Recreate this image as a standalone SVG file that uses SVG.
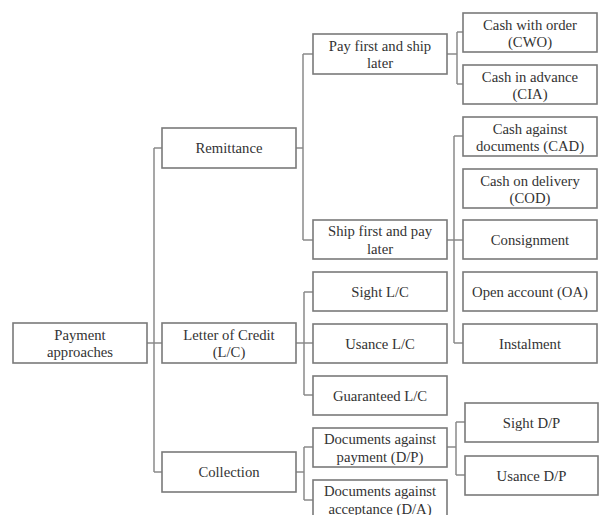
<svg xmlns="http://www.w3.org/2000/svg" width="606" height="515" viewBox="0 0 606 515">
<style>
.b{fill:#fff;stroke:#7a7a7a;stroke-width:1.6}
.t{font-family:"Liberation Serif","Times New Roman",serif;font-size:14.7px;fill:#333;text-anchor:middle;dominant-baseline:central}
.c{fill:none;stroke:#8a8a8a;stroke-width:1.5}
</style>
<rect width="606" height="515" fill="#fff"/>
<g id="connectors">
<path class="c" d="M147 343H162M154 148V472M154 148H162M154 472H162"/>
<path class="c" d="M296 148H303M303 54V240M303 54H313M303 240H313"/>
<path class="c" d="M296 343H313M304 292V395M304 292H313M304 395H313"/>
<path class="c" d="M296 472H304M304 447V500M304 447H313M304 500H313"/>
<path class="c" d="M447 54H457M457 32V84M457 32H463M457 84H463"/>
<path class="c" d="M447 240H463M454 136V343M454 136H463M454 343H463"/>
<path class="c" d="M447 447H456M456 422V475M456 422H465M456 475H465"/>
</g>
<g id="payment"><rect class="b" x="13" y="323" width="134" height="40"/><text class="t" x="80" y="334.5">Payment</text><text class="t" x="80" y="352">approaches</text></g>
<g id="remittance"><rect class="b" x="162" y="128" width="134" height="40"/><text class="t" x="229" y="148">Remittance</text></g>
<g id="lc"><rect class="b" x="162" y="323" width="134" height="40"/><text class="t" x="229" y="334.5">Letter of Credit</text><text class="t" x="229" y="352">(L/C)</text></g>
<g id="collection"><rect class="b" x="162" y="452" width="134" height="40"/><text class="t" x="229" y="472">Collection</text></g>
<g id="payfirst"><rect class="b" x="313" y="34" width="134" height="40"/><text class="t" x="380" y="45.5">Pay first and ship</text><text class="t" x="380" y="63">later</text></g>
<g id="shipfirst"><rect class="b" x="313" y="220" width="134" height="39"/><text class="t" x="380" y="231">Ship first and pay</text><text class="t" x="380" y="248.5">later</text></g>
<g id="sightlc"><rect class="b" x="313" y="272" width="134" height="39"/><text class="t" x="380" y="291.5">Sight L/C</text></g>
<g id="usancelc"><rect class="b" x="313" y="324" width="134" height="39"/><text class="t" x="380" y="343.5">Usance L/C</text></g>
<g id="guaranteedlc"><rect class="b" x="313" y="376" width="134" height="39"/><text class="t" x="380" y="395.5">Guaranteed L/C</text></g>
<g id="dp"><rect class="b" x="313" y="428" width="134" height="39"/><text class="t" x="380" y="439">Documents against</text><text class="t" x="380" y="456.5">payment (D/P)</text></g>
<g id="da"><rect class="b" x="313" y="480" width="134" height="39"/><text class="t" x="380" y="491">Documents against</text><text class="t" x="380" y="508.5">acceptance (D/A)</text></g>
<g id="cwo"><rect class="b" x="463" y="13" width="134" height="39"/><text class="t" x="530" y="24.5">Cash with order</text><text class="t" x="530" y="42">(CWO)</text></g>
<g id="cia"><rect class="b" x="463" y="65" width="134" height="39"/><text class="t" x="530" y="76.5">Cash in advance</text><text class="t" x="530" y="94">(CIA)</text></g>
<g id="cad"><rect class="b" x="463" y="117" width="134" height="39"/><text class="t" x="530" y="128.5">Cash against</text><text class="t" x="530" y="146">documents (CAD)</text></g>
<g id="cod"><rect class="b" x="463" y="169" width="134" height="39"/><text class="t" x="530" y="180.5">Cash on delivery</text><text class="t" x="530" y="198">(COD)</text></g>
<g id="consignment"><rect class="b" x="463" y="220" width="134" height="39"/><text class="t" x="530" y="239.5">Consignment</text></g>
<g id="oa"><rect class="b" x="463" y="272" width="134" height="39"/><text class="t" x="530" y="291.5">Open account (OA)</text></g>
<g id="instalment"><rect class="b" x="463" y="324" width="134" height="39"/><text class="t" x="530" y="343.5">Instalment</text></g>
<g id="sightdp"><rect class="b" x="465" y="403" width="133" height="39"/><text class="t" x="531.5" y="422.5">Sight D/P</text></g>
<g id="usancedp"><rect class="b" x="465" y="456" width="133" height="39"/><text class="t" x="531.5" y="475.5">Usance D/P</text></g>
</svg>
